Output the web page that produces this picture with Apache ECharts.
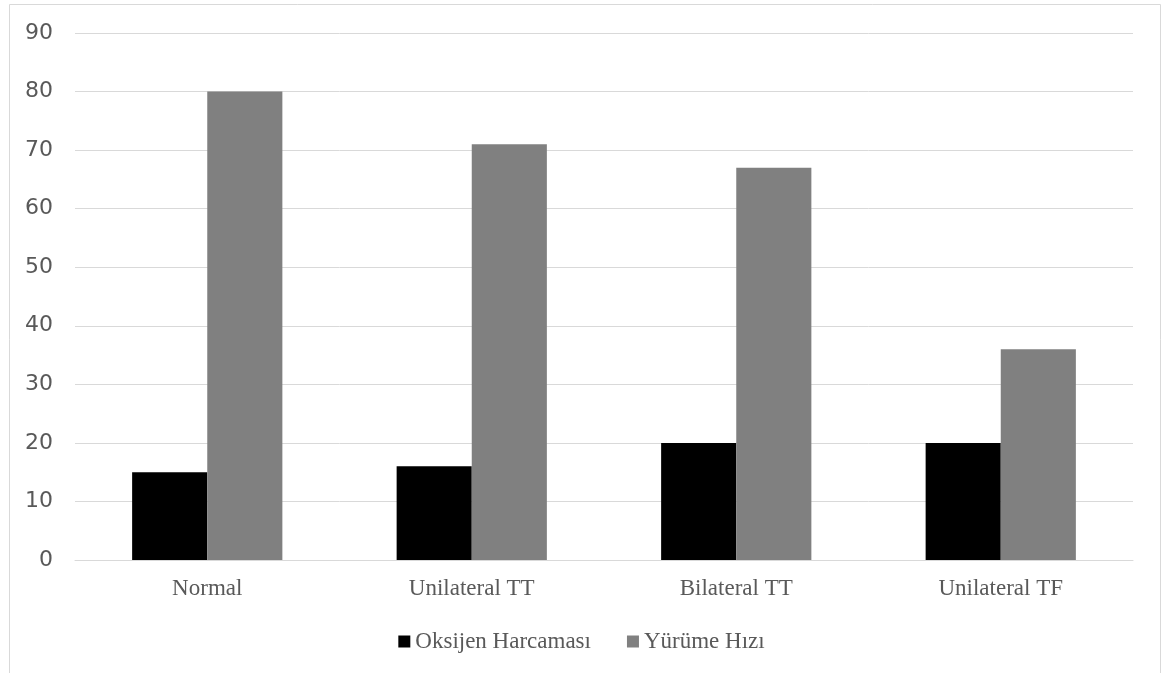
<!DOCTYPE html>
<html><head><meta charset="utf-8">
<script src="https://cdn.jsdelivr.net/npm/echarts@6/dist/echarts.min.js"></script>
<style>html,body{margin:0;padding:0;background:#fff}#c{width:1163px;height:673px}</style>
</head><body><div id="c"></div>
<script>
const categories = ['Normal', 'Unilateral TT', 'Bilateral TT', 'Unilateral TF'];
const oksijen = [15, 16, 20, 20];
const yurume = [80, 71, 67, 36];
const seriesNames = ['Oksijen Harcaması', 'Yürüme Hızı'];

const serif = 'Liberation Serif';
const chart = echarts.init(document.getElementById('c'), null, {renderer: 'canvas'});
chart.setOption({
  animation: false,
  backgroundColor: '#fff',
  graphic: [{
    type: 'rect', shape: {x: 9.5, y: 4.5, width: 1151, height: 700},
    style: {fill: 'none', stroke: '#d9d9d9', lineWidth: 1}, silent: true
  }],
  grid: {left: 75, right: 30, top: 33, bottom: 113, containLabel: false},
  legend: {
    data: seriesNames, bottom: 15, left: 'center', itemWidth: 12, itemHeight: 12, itemGap: 36,
    icon: 'rect',
    textStyle: {fontFamily: serif, fontSize: 23, color: '#595959'}
  },
  xAxis: {
    type: 'category', data: categories,
    axisLine: {show: true, lineStyle: {color: '#d9d9d9', width: 1}},
    axisTick: {show: false},
    axisLabel: {fontFamily: serif, fontSize: 23, color: '#595959', margin: 17}
  },
  yAxis: {
    type: 'value', min: 0, max: 90, interval: 10,
    axisLine: {show: false}, axisTick: {show: false},
    splitLine: {lineStyle: {color: '#d9d9d9', width: 1}},
    axisLabel: {fontFamily: 'DejaVu Sans', fontSize: 22, color: '#595959', margin: 22}
  },
  series: [
    {name: seriesNames[0], type: 'bar', data: oksijen, itemStyle: {color: '#000000'}, barWidth: '28.4%', barGap: '0%', barCategoryGap: '43%'},
    {name: seriesNames[1], type: 'bar', data: yurume, itemStyle: {color: '#808080'}, barWidth: '28.4%', barGap: '0%'}
  ]
});
</script></body></html>
